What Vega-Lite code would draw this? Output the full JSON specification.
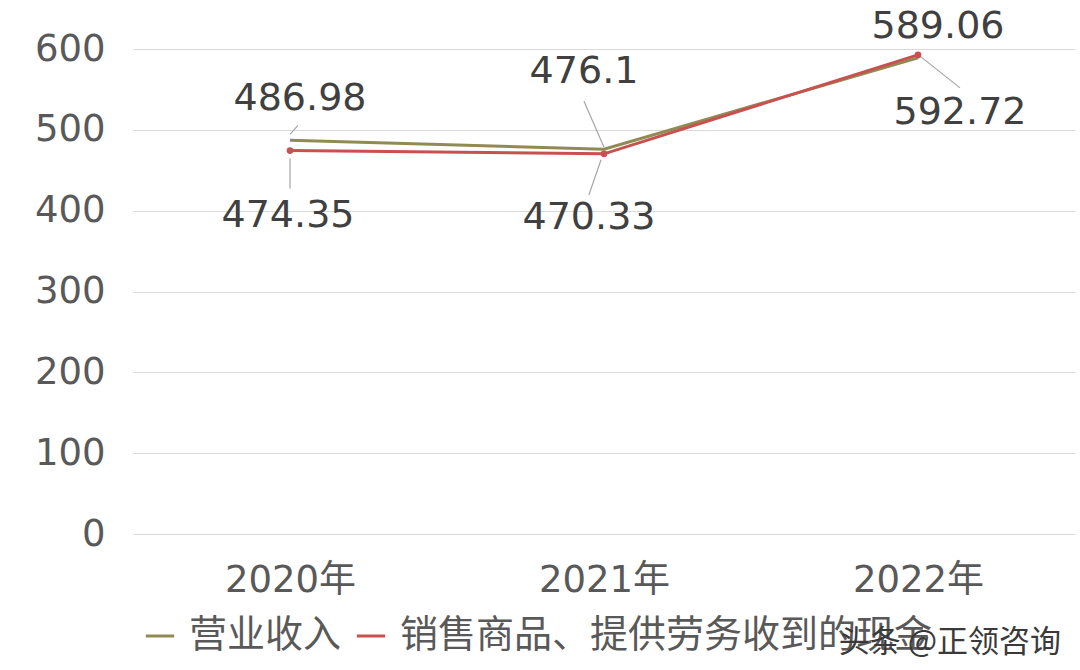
{
  "$schema": "https://vega.github.io/schema/vega-lite/v6.json",
  "autosize": {"type": "none"},
  "padding": {"left": 133, "top": 49, "right": 5, "bottom": 136},
  "width": 942,
  "height": 485,
  "background": "white",
  "title": {
    "text": "头条 @正领咨询",
    "orient": "bottom",
    "anchor": "end",
    "offset": -27,
    "dx": -14,
    "fontSize": 31,
    "fontWeight": "normal",
    "color": "#3a3a3a",
    "font": "Noto Sans CJK SC"
  },
  "config": {
    "view": {"stroke": null},
    "font": "DejaVu Sans, Noto Sans CJK SC",
    "axis": {"labelColor": "#595959", "labelFont": "DejaVu Sans, Noto Sans CJK SC"},
    "legend": {"labelFont": "DejaVu Sans, Noto Sans CJK SC"}
  },
  "data": {
    "values": [
      {"year": "2020年", "series": "营业收入", "value": 486.98},
      {"year": "2021年", "series": "营业收入", "value": 476.1},
      {"year": "2022年", "series": "营业收入", "value": 589.06},
      {"year": "2020年", "series": "销售商品、提供劳务收到的现金", "value": 474.35},
      {"year": "2021年", "series": "销售商品、提供劳务收到的现金", "value": 470.33},
      {"year": "2022年", "series": "销售商品、提供劳务收到的现金", "value": 592.72}
    ]
  },
  "encoding": {
    "x": {
      "field": "year",
      "type": "ordinal",
      "scale": {"type": "point", "padding": 0.5},
      "axis": {
        "title": null,
        "labelAngle": 0,
        "labelFontSize": 37,
        "labelPadding": 28,
        "ticks": false,
        "domain": false,
        "grid": false
      }
    },
    "y": {
      "field": "value",
      "type": "quantitative",
      "scale": {"domain": [0, 600], "nice": false},
      "axis": {
        "title": null,
        "values": [0, 100, 200, 300, 400, 500, 600],
        "labelFontSize": 37,
        "labelPadding": 28,
        "ticks": false,
        "domain": false,
        "gridColor": "#d9d9d9",
        "gridWidth": 1.2
      }
    }
  },
  "layer": [
    {
      "mark": {"type": "line", "strokeWidth": 3},
      "encoding": {
        "color": {
          "field": "series",
          "type": "nominal",
          "scale": {
            "domain": ["营业收入", "销售商品、提供劳务收到的现金"],
            "range": ["#8f8b52", "#c8504f"]
          },
          "legend": {
            "title": null,
            "orient": "none",
            "direction": "horizontal",
            "legendX": 8,
            "legendY": 568,
            "labelFontSize": 38,
            "labelColor": "#595959",
            "symbolType": "stroke",
            "symbolStrokeWidth": 3,
            "symbolSize": 800,
            "columnPadding": 8,
            "labelOffset": 10,
            "labelLimit": 700
          }
        }
      }
    },
    {
      "transform": [{"filter": "datum.series !== '营业收入'"}],
      "mark": {"type": "point", "filled": true, "size": 45, "color": "#c8504f", "opacity": 1}
    },
    {
      "transform": [{"filter": "datum.series === '营业收入' && datum.year === '2020年'"}],
      "mark": {"type": "rule", "color": "#a6a6a6", "strokeWidth": 1.2, "yOffset": -6, "x2Offset": 8, "y2Offset": -15},
      "encoding": {"x2": {"field": "year"}, "y2": {"field": "value"}}
    },
    {
      "transform": [{"filter": "datum.series !== '营业收入' && datum.year === '2020年'"}],
      "mark": {"type": "rule", "color": "#a6a6a6", "strokeWidth": 1.2, "yOffset": 8, "y2Offset": 38},
      "encoding": {"x2": {"field": "year"}, "y2": {"field": "value"}}
    },
    {
      "transform": [{"filter": "datum.series === '营业收入' && datum.year === '2021年'"}],
      "mark": {"type": "rule", "color": "#a6a6a6", "strokeWidth": 1.2, "yOffset": -2, "x2Offset": -20, "y2Offset": -48},
      "encoding": {"x2": {"field": "year"}, "y2": {"field": "value"}}
    },
    {
      "transform": [{"filter": "datum.series !== '营业收入' && datum.year === '2021年'"}],
      "mark": {"type": "rule", "color": "#a6a6a6", "strokeWidth": 1.2, "xOffset": -3, "yOffset": 6, "x2Offset": -15, "y2Offset": 41},
      "encoding": {"x2": {"field": "year"}, "y2": {"field": "value"}}
    },
    {
      "transform": [{"filter": "datum.series !== '营业收入' && datum.year === '2022年'"}],
      "mark": {"type": "rule", "color": "#a6a6a6", "strokeWidth": 1.2, "xOffset": 3, "yOffset": 2, "x2Offset": 42, "y2Offset": 33},
      "encoding": {"x2": {"field": "year"}, "y2": {"field": "value"}}
    },
    {
      "transform": [{"filter": "datum.series === '营业收入' && datum.year === '2020年'"}],
      "mark": {"type": "text", "fontSize": 38, "color": "#404040", "dx": 10, "dy": -41},
      "encoding": {"text": {"field": "value", "type": "nominal"}}
    },
    {
      "transform": [{"filter": "datum.series === '营业收入' && datum.year === '2021年'"}],
      "mark": {"type": "text", "fontSize": 38, "color": "#404040", "dx": -20, "dy": -77},
      "encoding": {"text": {"field": "value", "type": "nominal"}}
    },
    {
      "transform": [{"filter": "datum.series === '营业收入' && datum.year === '2022年'"}],
      "mark": {"type": "text", "fontSize": 38, "color": "#404040", "dx": 20, "dy": -31},
      "encoding": {"text": {"field": "value", "type": "nominal"}}
    },
    {
      "transform": [{"filter": "datum.series !== '营业收入' && datum.year === '2020年'"}],
      "mark": {"type": "text", "fontSize": 38, "color": "#404040", "dx": -2, "dy": 65},
      "encoding": {"text": {"field": "value", "type": "nominal"}}
    },
    {
      "transform": [{"filter": "datum.series !== '营业收入' && datum.year === '2021年'"}],
      "mark": {"type": "text", "fontSize": 38, "color": "#404040", "dx": -15, "dy": 64},
      "encoding": {"text": {"field": "value", "type": "nominal"}}
    },
    {
      "transform": [{"filter": "datum.series !== '营业收入' && datum.year === '2022年'"}],
      "mark": {"type": "text", "fontSize": 38, "color": "#404040", "dx": 42, "dy": 58},
      "encoding": {"text": {"field": "value", "type": "nominal"}}
    }
  ]
}
